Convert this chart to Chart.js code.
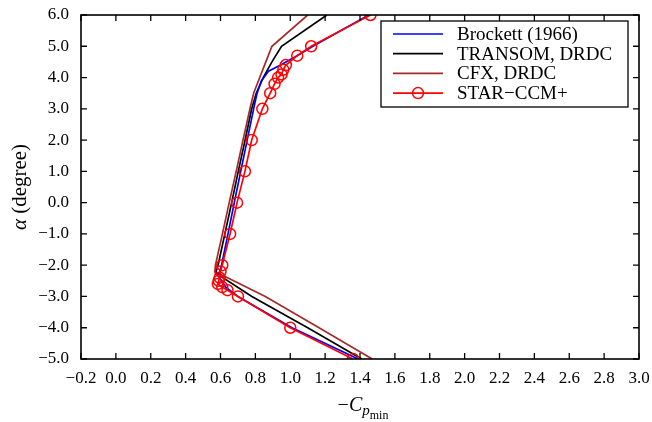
<!DOCTYPE html>
<html>
<head>
<meta charset="UTF-8">
<title>Cp min vs alpha</title>
<script src="https://cdn.jsdelivr.net/npm/chart.js"></script>
<style type="text/css">
	body { margin: 0; background: #fff; }
	#chartArea { width: 652px; height: 422px; }
</style>
</head>
<body>
<div id="chartArea">
	<canvas id="myChart" width="652" height="422"></canvas>
</div>
<script>
// series names (legend order)
var seriesNames = ['Brockett (1966)', 'TRANSOM, DRDC', 'CFX, DRDC', 'STAR\u2212CCM+'];

// Brockett (1966)
var brockettAlpha = [6.0, 5.0, 4.7, 4.4, 4.2, 3.9, 3.5, 3.0, 2.0, 1.0, 0.0, -1.0, -2.0, -2.35, -2.7, -3.0, -4.0, -5.0];
var brockettCp    = [1.45, 1.13, 1.04, 0.945, 0.875, 0.835, 0.81, 0.79, 0.753, 0.716, 0.679, 0.643, 0.606, 0.588, 0.63, 0.70, 1.01, 1.39];

// TRANSOM, DRDC
var transomAlpha = [6.0, 5.0, 4.5, 4.0, 3.5, 3.0, 2.0, 1.0, 0.0, -1.0, -2.0, -2.25, -3.0, -4.0, -5.0];
var transomCp    = [1.21, 0.95, 0.895, 0.845, 0.805, 0.779, 0.741, 0.702, 0.664, 0.625, 0.586, 0.572, 0.78, 1.10, 1.41];

// CFX, DRDC
var cfxAlpha = [6.0, 5.0, 4.5, 4.0, 3.5, 3.0, 2.0, 1.0, 0.0, -1.0, -2.0, -2.2, -3.0, -4.0, -5.0];
var cfxCp    = [1.10, 0.895, 0.86, 0.825, 0.79, 0.769, 0.729, 0.69, 0.65, 0.611, 0.571, 0.568, 0.857, 1.165, 1.47];

// STAR-CCM+
var starAlpha = [6.0, 5.0, 4.7, 4.4, 4.25, 4.1, 4.0, 3.8, 3.5, 3.0, 2.0, 1.0, 0.0, -1.0, -2.0, -2.2, -2.4, -2.5, -2.6, -2.7, -2.8, -3.0, -4.0, -5.0];
var starCp    = [1.46, 1.12, 1.04, 0.975, 0.96, 0.95, 0.93, 0.91, 0.885, 0.84, 0.779, 0.74, 0.695, 0.655, 0.61, 0.60, 0.595, 0.59, 0.585, 0.61, 0.64, 0.70, 1.00, 1.36];

// axis settings
var xMin = -0.2, xMax = 3.0, xStep = 0.2;
var yMin = -5.0, yMax = 6.0, yStep = 1.0;

var seriesColors = ['#0000ff', '#000000', '#a52a2a', '#ff0000'];

function toPoints(xs, ys) {
	var pts = [];
	for (var i = 0; i < xs.length; i++) pts.push({x: xs[i], y: ys[i]});
	return pts;
}

function fmt(v) {
	if (Math.abs(v) < 1e-9) v = 0;
	return v.toFixed(1).replace('-', '\u2212');
}

var serif = "'Liberation Serif', 'DejaVu Serif', serif";

// box, inward ticks, legend and axis titles
var framePlugin = {
	id: 'frame',
	afterDatasetsDraw: function(chart) {
		var ctx = chart.ctx;
		var a = chart.chartArea;
		var xs = chart.scales.x, ys = chart.scales.y;
		ctx.save();
		ctx.strokeStyle = '#000';
		ctx.lineWidth = 1.3;
		ctx.beginPath();
		xs.ticks.forEach(function(t) {
			var px = xs.getPixelForValue(t.value);
			ctx.moveTo(px, a.bottom); ctx.lineTo(px, a.bottom - 6);
			ctx.moveTo(px, a.top); ctx.lineTo(px, a.top + 6);
		});
		ys.ticks.forEach(function(t) {
			var py = ys.getPixelForValue(t.value);
			ctx.moveTo(a.left, py); ctx.lineTo(a.left + 6, py);
			ctx.moveTo(a.right, py); ctx.lineTo(a.right - 6, py);
		});
		ctx.stroke();
		ctx.lineWidth = 1.6;
		ctx.strokeRect(a.left, a.top, a.right - a.left, a.bottom - a.top);

		// legend
		var bx = a.right - 258, by = a.top + 6, bw = 247, bh = 86;
		ctx.fillStyle = '#fff';
		ctx.fillRect(bx, by, bw, bh);
		ctx.lineWidth = 1.3;
		ctx.strokeRect(bx, by, bw, bh);
		ctx.font = '19px ' + serif;
		ctx.textBaseline = 'middle';
		chart.data.datasets.forEach(function(ds, i) {
			var ry = by + 13 + i * 19.7;
			ctx.strokeStyle = ds.borderColor;
			ctx.lineWidth = ds.borderWidth;
			ctx.beginPath();
			ctx.moveTo(bx + 12, ry); ctx.lineTo(bx + 62, ry);
			ctx.stroke();
			if (ds.pointRadius > 0) {
				ctx.lineWidth = ds.pointBorderWidth;
				ctx.beginPath();
				ctx.arc(bx + 37, ry, ds.pointRadius, 0, Math.PI * 2);
				ctx.stroke();
			}
			ctx.fillStyle = '#000';
			ctx.textAlign = 'left';
			ctx.fillText(ds.label, bx + 76, ry + 1);
		});

		// y title
		ctx.save();
		ctx.translate(20, (a.top + a.bottom) / 2);
		ctx.rotate(-Math.PI / 2);
		ctx.fillStyle = '#000';
		ctx.textBaseline = 'middle';
		ctx.textAlign = 'left';
		ctx.font = 'italic 21px ' + serif;
		var w1 = ctx.measureText('\u03b1').width;
		ctx.font = '21px ' + serif;
		var w2 = ctx.measureText(' (degree)').width;
		var sx = -(w1 + w2) / 2;
		ctx.font = 'italic 21px ' + serif;
		ctx.fillText('\u03b1', sx, 0);
		ctx.font = '21px ' + serif;
		ctx.fillText(' (degree)', sx + w1, 0);
		ctx.restore();

		// x title
		ctx.fillStyle = '#000';
		ctx.textBaseline = 'alphabetic';
		ctx.textAlign = 'left';
		var parts = [
			{t: '\u2212', f: '20px ' + serif, dy: 0},
			{t: 'C', f: 'italic 20px ' + serif, dy: 0},
			{t: 'p', f: 'italic 15px ' + serif, dy: 4},
			{t: 'min', f: '12px ' + serif, dy: 8}
		];
		var total = 0;
		parts.forEach(function(p) { ctx.font = p.f; p.w = ctx.measureText(p.t).width; total += p.w; });
		var cx = (a.left + a.right) / 2 - total / 2 + 3;
		var base = 411;
		parts.forEach(function(p) {
			ctx.font = p.f;
			ctx.fillText(p.t, cx, base + p.dy);
			cx += p.w;
		});
		ctx.restore();
	}
};

var ctx = document.getElementById('myChart').getContext('2d');
var myChart = new Chart(ctx, {
	type: 'scatter',
	data: {
		datasets: [{
			label: seriesNames[0],
			data: toPoints(brockettCp, brockettAlpha),
			borderColor: seriesColors[0],
			borderWidth: 1.7,
			pointRadius: 0,
			showLine: true,
			order: 1
		}, {
			label: seriesNames[1],
			data: toPoints(transomCp, transomAlpha),
			borderColor: seriesColors[1],
			borderWidth: 1.7,
			pointRadius: 0,
			showLine: true,
			order: 2
		}, {
			label: seriesNames[2],
			data: toPoints(cfxCp, cfxAlpha),
			borderColor: seriesColors[2],
			borderWidth: 1.7,
			pointRadius: 0,
			showLine: true,
			order: 3
		}, {
			label: seriesNames[3],
			data: toPoints(starCp, starAlpha),
			borderColor: seriesColors[3],
			borderWidth: 1.7,
			pointRadius: 5.5,
			pointBorderWidth: 1.5,
			pointBorderColor: seriesColors[3],
			pointBackgroundColor: 'rgba(255,255,255,0)',
			showLine: true,
			order: 0
		}]
	},
	options: {
		responsive: false,
		animation: false,
		layout: { padding: { left: 0, right: 13, top: 15, bottom: 0 } },
		plugins: {
			legend: { display: false },
			tooltip: { enabled: false }
		},
		scales: {
			x: {
				type: 'linear',
				min: xMin,
				max: xMax,
				grid: { display: false, drawTicks: false },
				border: { display: false },
				ticks: {
					stepSize: xStep,
					autoSkip: false,
					maxRotation: 0,
					padding: 9,
					color: '#000',
					font: { family: serif, size: 17 },
					callback: function(v) { return fmt(v); }
				},
				afterFit: function(s) { s.height = 63; s.paddingLeft = 0; s.paddingRight = 0; }
			},
			y: {
				type: 'linear',
				min: yMin,
				max: yMax,
				grid: { display: false, drawTicks: false },
				border: { display: false },
				ticks: {
					stepSize: yStep,
					padding: 12,
					color: '#000',
					font: { family: serif, size: 17 },
					callback: function(v) { return fmt(v); }
				},
				afterFit: function(s) { s.width = 81; s.paddingTop = 0; s.paddingBottom = 0; }
			}
		}
	},
	plugins: [framePlugin]
});
</script>
</body>
</html>
